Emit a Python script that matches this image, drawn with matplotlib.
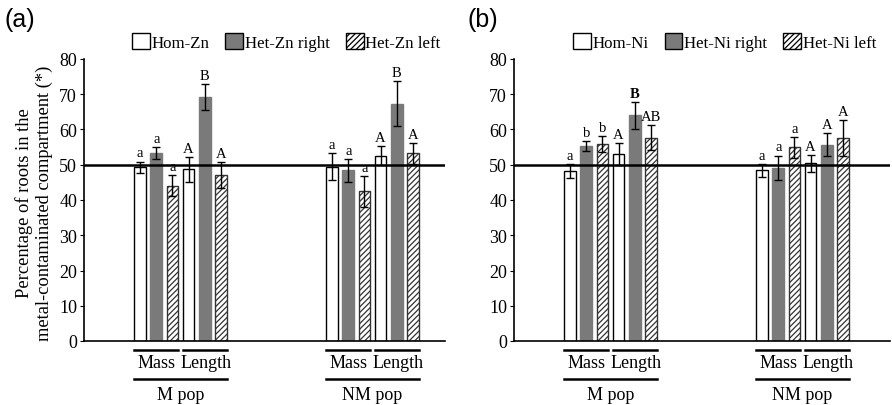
import numpy as np
import matplotlib
matplotlib.use('Agg')
import matplotlib.pyplot as plt
from matplotlib.patches import Patch

plt.rcParams['font.family'] = ['Liberation Serif', 'DejaVu Serif']
plt.rcParams['hatch.linewidth'] = 0.9

# data: order per population = Mass(Hom, HetRight, HetLeft), Length(Hom, HetRight, HetLeft)
populations = ['M pop', 'NM pop']
traits = ['Mass', 'Length']

zn_m_pop = [49.3, 53.3, 44.1, 48.7, 69.2, 47.1]
zn_m_err = [1.6, 1.6, 2.9, 3.6, 3.8, 3.6]
zn_nm_pop = [49.4, 48.4, 42.5, 52.6, 67.3, 53.2]
zn_nm_err = [3.8, 3.3, 4.4, 2.8, 6.4, 2.9]
zn_m_lbl = ['a', 'a', 'a', 'A', 'B', 'A']
zn_nm_lbl = ['a', 'a', 'a', 'A', 'B', 'A']

ni_m_pop = [48.3, 55.2, 55.8, 53.0, 64.0, 57.7]
ni_m_err = [2.0, 1.4, 2.3, 3.1, 3.9, 3.5]
ni_nm_pop = [48.4, 49.1, 54.9, 50.4, 55.7, 57.6]
ni_nm_err = [1.8, 3.5, 2.9, 2.4, 3.2, 5.2]
ni_m_lbl = ['a', 'b', 'b', 'A', 'B', 'AB']
ni_nm_lbl = ['a', 'a', 'a', 'A', 'A', 'A']

zn_legend = ['Hom-Zn', 'Het-Zn right', 'Het-Zn left']
ni_legend = ['Hom-Ni', 'Het-Ni right', 'Het-Ni left']

# bar styling (Hom, Het right, Het left)
styles = [dict(color='white', edgecolor='black', hatch=None),
          dict(color='#7a7a7a', edgecolor='#7a7a7a', hatch=None),
          dict(color='white', edgecolor='#333333', hatch='//////')]

W, H = 892, 406
fig = plt.figure(figsize=(W / 100, H / 100), dpi=100)

spacing = 16.2
bw = 11.5
group_start = [56, 248]


def panel(ax, vals_list, errs_list, lbls_list, legend_names, xmax, bold_idx=None):
    for g, (vals, errs, lbls) in enumerate(zip(vals_list, errs_list, lbls_list)):
        xs = group_start[g] + spacing * np.arange(6)
        for i, (x, v, e, l) in enumerate(zip(xs, vals, errs, lbls)):
            st = styles[i % 3]
            ax.bar(x, v, width=bw, color=st['color'], edgecolor=st['edgecolor'],
                   hatch=st['hatch'], linewidth=1.0, zorder=2)
            ax.errorbar(x, v, yerr=e, fmt='none', ecolor='black', elinewidth=1.0,
                        capsize=2.6, capthick=1.0, zorder=3)
            fw = 'bold' if bold_idx == (g, i) else 'normal'
            ax.text(x, v + e + 0.6, l, ha='center', va='bottom', fontsize=10.5,
                    fontweight=fw, zorder=4)
        # group annotations beneath the axis
        tr = ax.get_xaxis_transform()
        left = xs[0] - bw / 2
        ax.plot([left, xs[2] + bw / 2], [-0.031, -0.031], transform=tr, color='black',
                lw=1.8, clip_on=False)
        ax.plot([xs[3] - bw / 2, xs[5] + bw / 2], [-0.031, -0.031], transform=tr,
                color='black', lw=1.8, clip_on=False)
        ax.plot([left, xs[5] + bw / 2], [-0.135, -0.135], transform=tr, color='black',
                lw=1.8, clip_on=False)
        ax.text(xs[1], -0.076, traits[0], transform=tr, ha='center', va='center',
                fontsize=13)
        ax.text(xs[4] + 1, -0.076, traits[1], transform=tr, ha='center', va='center',
                fontsize=13)
        ax.text((xs[2] + xs[3]) / 2, -0.19, populations[g], transform=tr, ha='center',
                va='center', fontsize=13)

    ax.axhline(50, color='black', lw=1.8, zorder=5)
    ax.set_xlim(0, xmax)
    ax.set_ylim(0, 80)
    ax.set_yticks(np.arange(0, 81, 10))
    ax.set_xticks([])
    ax.tick_params(axis='y', direction='out', length=3, labelsize=13, pad=2)
    ax.spines['top'].set_visible(False)
    ax.spines['right'].set_visible(False)
    ax.spines['left'].set_linewidth(1.2)
    ax.spines['bottom'].set_linewidth(1.2)

    handles = [Patch(facecolor=s['color'], edgecolor='black', hatch=s['hatch'], lw=1.0)
               for s in styles]
    ax.legend(handles, legend_names, ncol=3, frameon=False, loc='center',
              bbox_to_anchor=(0.56, 1.06), fontsize=12.2, handlelength=1.05,
              handleheight=1.1, handletextpad=0.1, columnspacing=0.95, borderaxespad=0)


bottom = 1 - 342 / H
height = (342 - 60) / H

ax_a = fig.add_axes([84 / W, bottom, 361 / W, height])
panel(ax_a, [zn_m_pop, zn_nm_pop], [zn_m_err, zn_nm_err], [zn_m_lbl, zn_nm_lbl],
      zn_legend, 361)

ax_b = fig.add_axes([514 / W, bottom, 376 / W, height])
panel(ax_b, [ni_m_pop, ni_nm_pop], [ni_m_err, ni_nm_err], [ni_m_lbl, ni_nm_lbl],
      ni_legend, 376, bold_idx=(0, 4))

fig.text(34 / W, 1 - 203 / H, 'Percentage of roots in the\nmetal-contaminated compartment (*)',
         rotation=90, ha='center', va='center', fontsize=13.3, linespacing=1.15)

fig.text(5 / W, 1 - 20 / H, '(a)', family='Liberation Sans', fontsize=18,
         ha='left', va='center')
fig.text(468 / W, 1 - 20 / H, '(b)', family='Liberation Sans', fontsize=18,
         ha='left', va='center')

fig.savefig('out.png', dpi=100)
